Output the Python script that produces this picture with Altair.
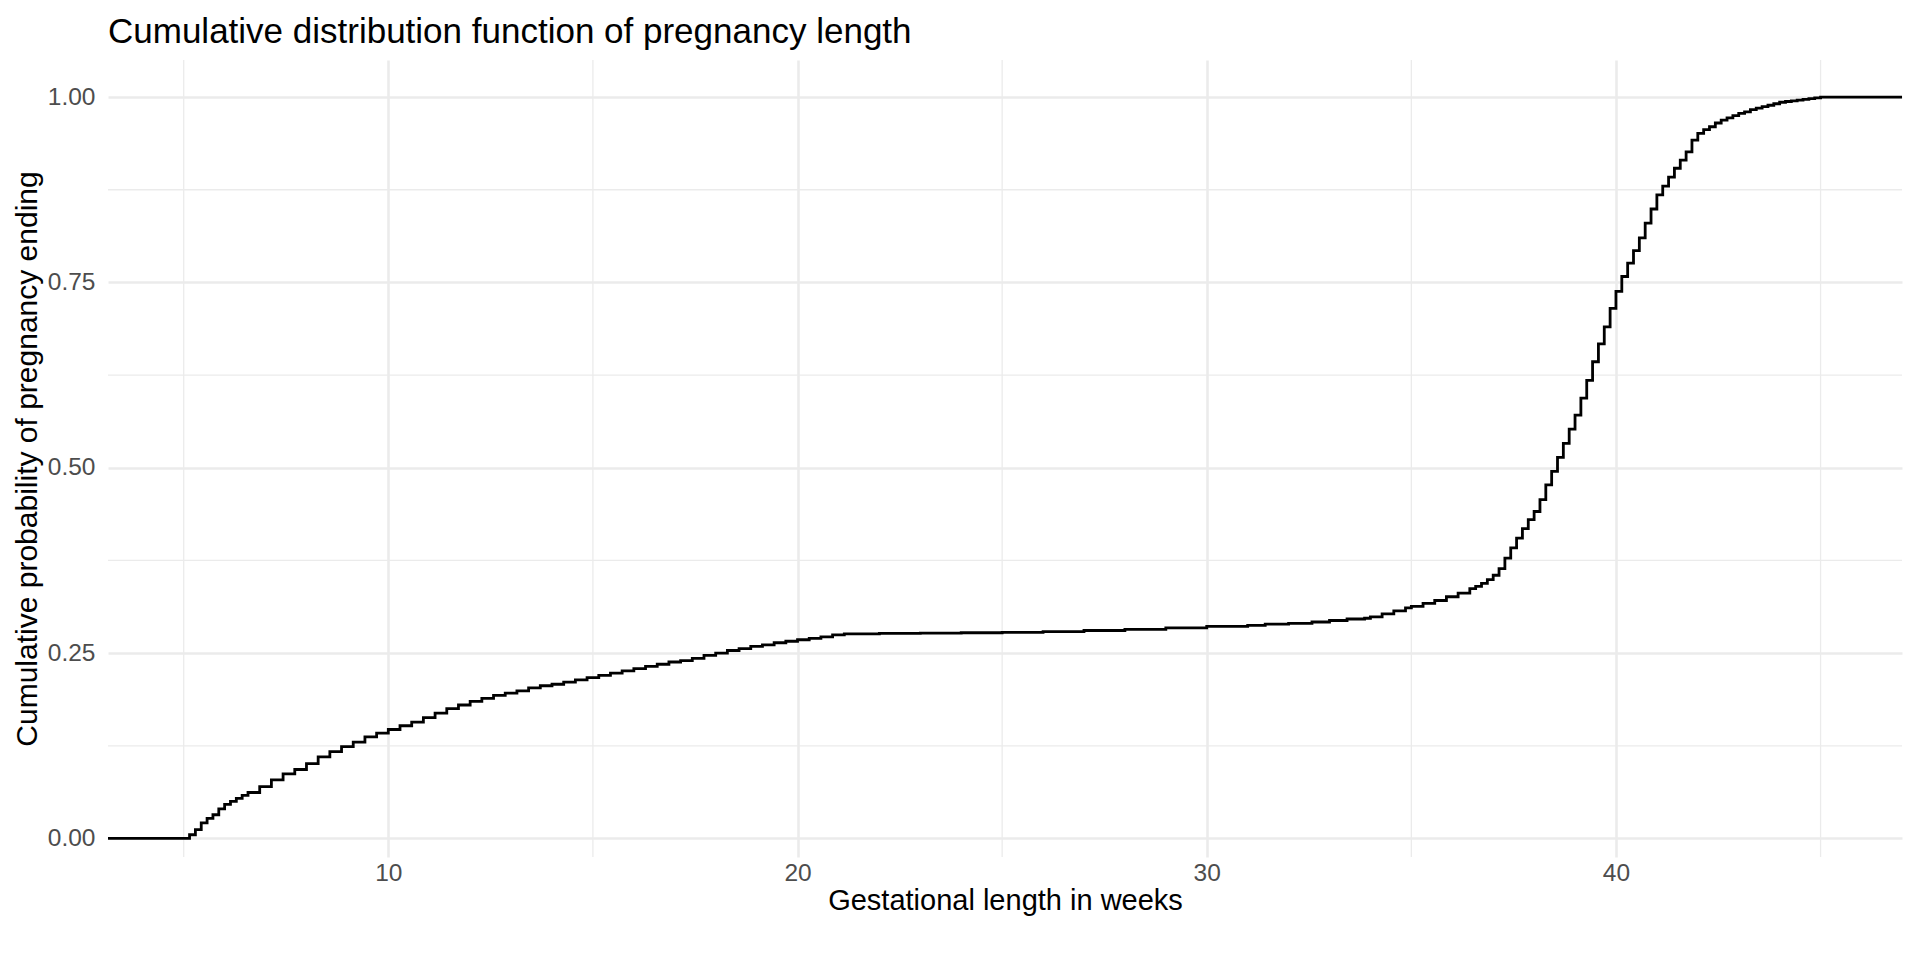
import altair as alt
import pandas as pd

# Gestational length (days) at which the empirical CDF steps, and the CDF value after the step
days = [20, 36, 37, 38, 39, 40, 41, 42, 43, 44, 45, 46, 48, 50, 52, 54, 56, 58, 60, 62,
        64, 66, 68, 70, 72, 74, 76, 78, 80, 82, 84, 86, 88, 90, 92, 94, 96, 98, 100, 102,
        104, 106, 108, 110, 112, 114, 116, 118, 120, 122, 124, 126, 128, 130, 132, 134, 136, 138, 140, 142,
        144, 146, 148, 154, 161, 168, 175, 182, 189, 196, 203, 210, 217, 220, 224, 228, 231, 234, 237, 238,
        240, 242, 244, 245, 247, 249, 251, 253, 255, 256, 257, 258, 259, 260, 261, 262, 263, 264, 265, 266,
        267, 268, 269, 270, 271, 272, 273, 274, 275, 276, 277, 278, 279, 280, 281, 282, 283, 284, 285, 286,
        287, 288, 289, 290, 291, 292, 293, 294, 295, 296, 297, 298, 299, 300, 301, 302, 303, 304, 305, 306,
        307, 308, 309, 310, 311, 312, 313, 314, 315, 330]
cdf = [0.0, 0.005, 0.012, 0.021, 0.027, 0.032, 0.040, 0.046, 0.050, 0.054, 0.058, 0.062, 0.070, 0.079, 0.087, 0.093, 0.101, 0.110, 0.117, 0.124,
       0.130, 0.137, 0.142, 0.147, 0.152, 0.157, 0.163, 0.169, 0.175, 0.180, 0.185, 0.189, 0.193, 0.196, 0.199, 0.203, 0.206, 0.208, 0.211, 0.214,
       0.217, 0.220, 0.223, 0.226, 0.229, 0.232, 0.235, 0.238, 0.240, 0.243, 0.247, 0.250, 0.2535, 0.256, 0.259, 0.261, 0.264, 0.266, 0.268, 0.270,
       0.272, 0.2745, 0.276, 0.2765, 0.277, 0.2775, 0.278, 0.279, 0.2805, 0.282, 0.284, 0.286, 0.2875, 0.289, 0.290, 0.292, 0.294, 0.296, 0.297, 0.299,
       0.303, 0.307, 0.311, 0.313, 0.317, 0.321, 0.326, 0.331, 0.337, 0.340, 0.344, 0.349, 0.355, 0.364, 0.378, 0.392, 0.405, 0.418, 0.430, 0.441,
       0.457, 0.477, 0.495, 0.514, 0.533, 0.552, 0.571, 0.594, 0.618, 0.643, 0.667, 0.690, 0.715, 0.738, 0.758, 0.776, 0.793, 0.810, 0.830, 0.849,
       0.868, 0.880, 0.892, 0.904, 0.915, 0.926, 0.942, 0.951, 0.956, 0.960, 0.965, 0.969, 0.972, 0.975, 0.978, 0.980, 0.983, 0.985, 0.987, 0.989,
       0.991, 0.993, 0.994, 0.995, 0.996, 0.997, 0.998, 0.999, 1.0, 1.0]

major_x = [10, 20, 30, 40]
minor_x = [5, 15, 25, 35, 45]
major_y = [0.0, 0.25, 0.5, 0.75, 1.0]
minor_y = [0.125, 0.375, 0.625, 0.875]

df = pd.DataFrame({"weeks": [d / 7 for d in days], "cdf": cdf})
mx = pd.DataFrame({"v": minor_x})
my = pd.DataFrame({"v": minor_y})

FONT = "Liberation Sans"
xscale = alt.Scale(domain=[3.15, 46.99], nice=False, zero=False)
yscale = alt.Scale(domain=[-0.025, 1.05], nice=False, zero=False)

minor_x_rules = alt.Chart(mx).mark_rule(color="#EBEBEB", strokeWidth=1.3).encode(
    x=alt.X("v:Q", scale=xscale)
)
minor_y_rules = alt.Chart(my).mark_rule(color="#EBEBEB", strokeWidth=1.3).encode(
    y=alt.Y("v:Q", scale=yscale)
)

line = alt.Chart(df).mark_line(interpolate="step-after", color="black", strokeWidth=2.8, clip=True).encode(
    x=alt.X("weeks:Q", scale=xscale,
            axis=alt.Axis(title="Gestational length in weeks", values=major_x, format="d",
                          grid=True, gridColor="#EBEBEB", gridWidth=2.6,
                          domain=False, ticks=False, tickSize=0, labelPadding=4,
                          labelFont=FONT, labelFontSize=24.5, labelColor="#4D4D4D",
                          titleFont=FONT, titleFontSize=29, titleFontWeight="normal",
                          titleColor="black", titlePadding=2)),
    y=alt.Y("cdf:Q", scale=yscale,
            axis=alt.Axis(title="Cumulative probability of pregnancy ending", values=major_y, format=".2f",
                          grid=True, gridColor="#EBEBEB", gridWidth=2.6,
                          domain=False, ticks=False, tickSize=0, labelPadding=13,
                          labelFont=FONT, labelFontSize=24.5, labelColor="#4D4D4D",
                          titleFont=FONT, titleFontSize=30, titleFontWeight="normal",
                          titleColor="black", titlePadding=5)),
)

chart = alt.layer(minor_x_rules, minor_y_rules, line).properties(
    width=1794, height=797,
    title=alt.TitleParams("Cumulative distribution function of pregnancy length",
                          anchor="start", frame="group", font=FONT, fontSize=35, fontWeight="normal",
                          color="black", offset=9),
    autosize=alt.AutoSizeParams(type="none"),
    padding={"left": 100, "top": 52, "right": 10, "bottom": 80},
).configure_view(stroke=None)

chart.save("out.html", embed_options={"renderer": "svg", "actions": False})
